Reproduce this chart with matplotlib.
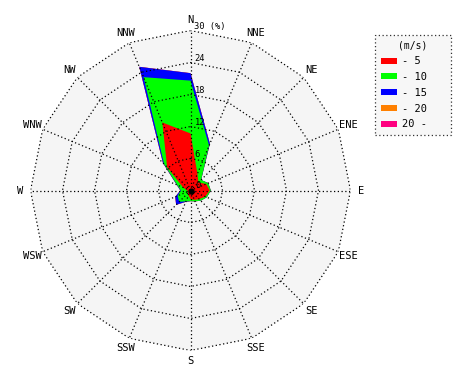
import numpy as np
import matplotlib
matplotlib.use("Agg")
import matplotlib.pyplot as plt
from matplotlib.patches import Patch

plt.rcParams['font.family'] = ['DejaVu Sans Mono']

directions = ["N", "NNE", "NE", "ENE", "E", "ESE", "SE", "SSE",
              "S", "SSW", "SW", "WSW", "W", "WNW", "NW", "NNW"]
# frequency (%) per speed class
speed_0_5 = [10.7, 3.4, 2.1, 3.2, 3.6, 3.0, 2.3, 1.9, 1.6, 1.0, 0.7, 0.5, 0.6, 1.5, 6.2, 13.8]
speed_5_10 = [9.9, 5.7, 0.7, 0.4, 0.2, 0.3, 0.4, 0.3, 0.4, 1.2, 2.3, 2.1, 1.2, 1.2, 0.8, 9.2]
speed_10_15 = [1.4, 0.4, 0.0, 0.0, 0.0, 0.0, 0.0, 0.0, 0.0, 0.1, 0.8, 0.5, 0.1, 0.1, 0.3, 2.1]
speed_15_20 = [0.0] * 16
speed_20_up = [0.0] * 16
class_labels = ["- 5", "- 10", "- 15", "- 20", "20 -"]
class_colors = ["#ff0000", "#00ff00", "#0000ff", "#ff8000", "#ff0080"]
ring_values = [6, 12, 18, 24, 30]

series = [speed_0_5, speed_5_10, speed_10_15, speed_15_20, speed_20_up]
cum = np.cumsum(np.array(series), axis=0)

W, H = 470, 380
fig = plt.figure(figsize=(W / 100, H / 100), dpi=100)
cx, cy, R = 190.5, 190.5, 160
ax = fig.add_axes([(cx - R) / W, (H - cy - R) / H, 2 * R / W, 2 * R / H], projection='polar')
ax.set_theta_zero_location('N')
ax.set_theta_direction(-1)
ax.set_ylim(0, 30)
ax.grid(False)
ax.set_xticks([])
ax.set_yticks([])
ax.spines['polar'].set_visible(False)
ax.patch.set_visible(False)

theta = np.deg2rad(np.arange(16) * 22.5)
theta_c = np.append(theta, theta[0])

# background polygon
ax.fill(theta_c, [30] * 17, color='#f5f5f5', zorder=0, lw=0)

# stacked fills, largest first
for i in range(4, -1, -1):
    r = np.append(cum[i], cum[i][0])
    ax.fill(theta_c, r, color=class_colors[i], lw=0, zorder=1 + (4 - i))

dot = dict(color='black', lw=0.9, linestyle=(0, (1, 2)), zorder=10)
for rv in ring_values:
    ax.plot(theta_c, [rv] * 17, **dot)
for th in theta:
    ax.plot([th, th], [0, 30], **dot)

ax.plot([0], [0], 'o', color='black', ms=3.5, zorder=11)

# ring labels
for rv in ring_values:
    txt = f"{rv} (%)" if rv == 30 else str(rv)
    ax.annotate(txt, xy=(0, rv), xytext=(4, 4), textcoords='offset pixels',
                ha='left', va='center', fontsize=6.3, zorder=12)
ax.annotate("0", xy=(0, 0), xytext=(5, 5), textcoords='offset pixels',
            ha='left', va='center', fontsize=6.3, zorder=12)

# direction labels
for th, d in zip(theta, directions):
    ax.text(th, 32.0, d, ha='center', va='center', fontsize=7.5)

handles = [Patch(facecolor=c, edgecolor='none') for c in class_colors]
leg = ax.legend(handles, class_labels, title="(m/s)", loc='upper left',
                bbox_to_anchor=(375 / W, 1 - 35 / H, 76 / W, 0.0001),
                bbox_transform=fig.transFigure, mode='expand',
                fontsize=7.5, title_fontsize=7, frameon=True, fancybox=False,
                handlelength=1.55, handleheight=0.5, handletextpad=0.45,
                labelspacing=0.55, borderpad=0.55, borderaxespad=0)
frame = leg.get_frame()
frame.set_facecolor('#f5f5f5')
frame.set_edgecolor('black')
frame.set_linestyle((0, (1, 2)))
frame.set_linewidth(0.9)
leg._legend_box.align = "center"

fig.savefig("out.png", dpi=100)
